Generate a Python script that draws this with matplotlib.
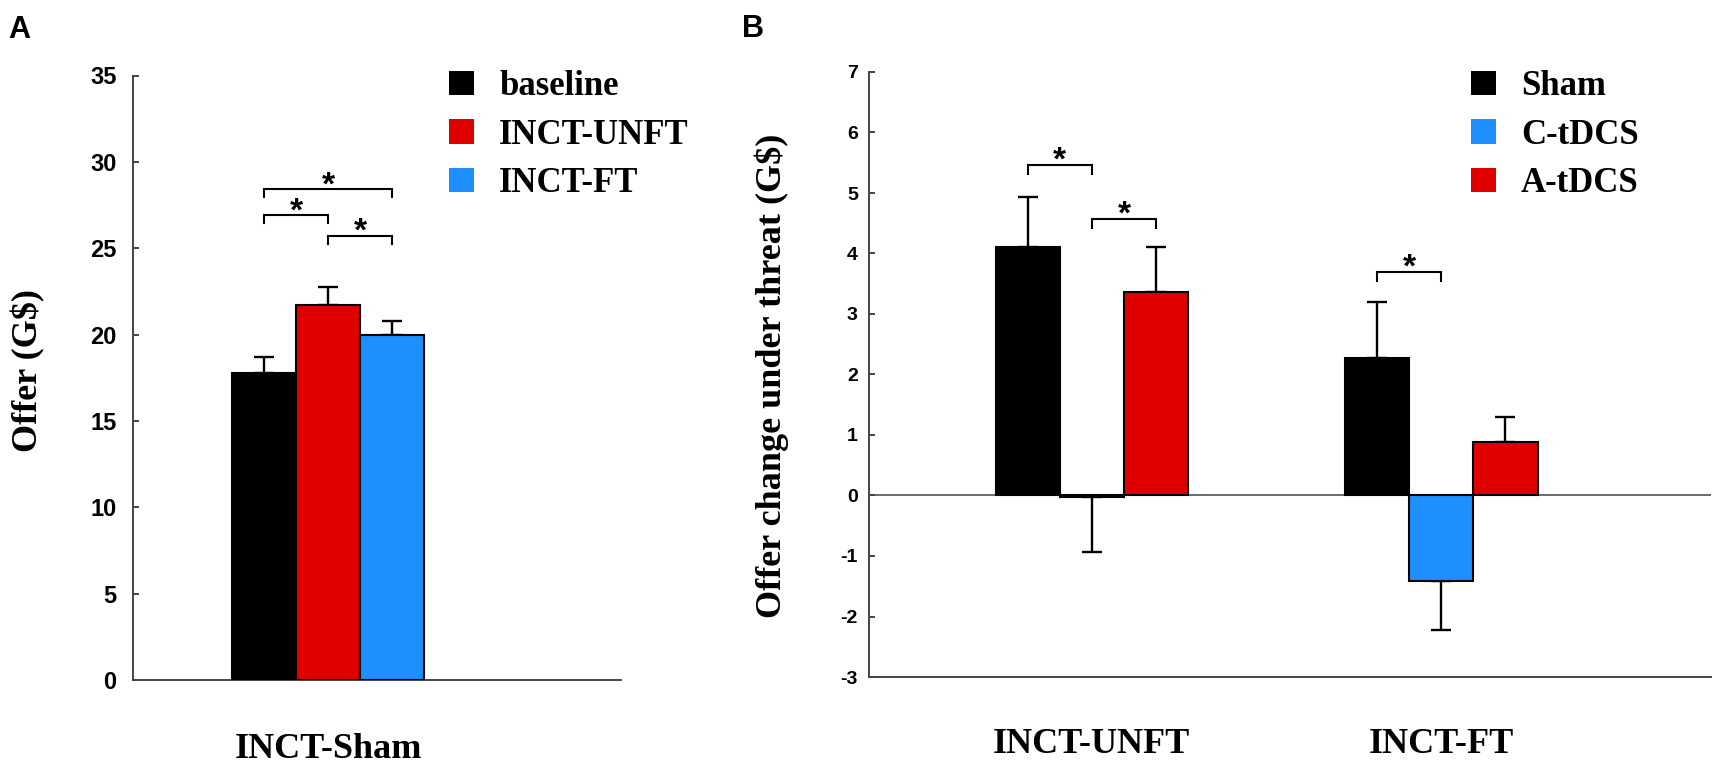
import matplotlib
matplotlib.use("Agg")
import matplotlib.pyplot as plt
from matplotlib.patches import Patch

plt.rcParams["font.family"] = ["Liberation Sans", "DejaVu Sans"]
plt.rcParams["font.weight"] = "bold"
plt.rcParams["axes.unicode_minus"] = False

SERIF = ["Liberation Serif", "DejaVu Serif"]

# ---------------- datos ----------------
# Panel A
a_group = ["INCT-Sham"]
a_conditions = ["baseline", "INCT-UNFT", "INCT-FT"]
a_means = [17.8, 21.7, 20.0]
a_errs = [0.9, 1.05, 0.8]
# (barra i, barra j, altura)
a_sig = [(0, 2, 28.4), (0, 1, 26.9), (1, 2, 25.7)]

# Panel B
b_groups = ["INCT-UNFT", "INCT-FT"]
b_conditions = ["Sham", "C-tDCS", "A-tDCS"]
b_sham = [4.10, 2.28]
b_ctdcs = [-0.03, -1.42]
b_atdcs = [3.37, 0.89]
b_sham_err = [0.83, 0.92]
b_ctdcs_err = [0.90, 0.80]
b_atdcs_err = [0.74, 0.41]
# (grupo, barra i, barra j, altura)
b_sig = [(0, 0, 1, 5.47), (0, 1, 2, 4.57), (1, 0, 1, 3.70)]

# ---------------- estilo ----------------
BLACK, RED, BLUE = "#000000", "#e00000", "#1e8fff"
a_colors = [BLACK, RED, BLUE]
b_colors = [BLACK, BLUE, RED]
AXC = "#444444"
W = 1.0            # ancho de barra
B_GAP = 5.44       # separación entre grupos del panel B

fig = plt.figure(figsize=(17.22, 7.63), dpi=100)
FW, FH = 1722, 763
axA = fig.add_axes([133 / FW, 1 - 680 / FH, 488 / FW, 604.5 / FH])
axB = fig.add_axes([869 / FW, 1 - 677 / FH, 842 / FW, 605 / FH])


def draw_bar(ax, x, v, e, color):
    ax.bar(x, v, width=W, color=color, edgecolor="black", linewidth=1.5, zorder=3)
    yerr = [[0], [e]] if v >= 0 else [[e], [0]]
    ax.errorbar(x, v, yerr=yerr, fmt="none", ecolor="black", elinewidth=1.7,
                capsize=7, capthick=1.7, zorder=2)


def bracket(ax, x1, x2, h, drop, fs):
    ax.plot([x1, x1, x2, x2], [h - drop, h, h, h - drop], color="black",
            lw=1.5, solid_joinstyle="miter", zorder=4)
    ax.annotate("*", xy=((x1 + x2) / 2, h), xytext=(0, -3.5), textcoords="offset points",
                ha="center", va="baseline", fontsize=fs, fontweight="bold")


def style_axis(ax, labelsize, pad):
    for s in ("top", "right"):
        ax.spines[s].set_visible(False)
    for s in ("left", "bottom"):
        ax.spines[s].set_color(AXC)
        ax.spines[s].set_linewidth(1.4)
    ax.tick_params(axis="y", direction="in", length=4, width=1.4, color=AXC,
                   labelsize=labelsize, pad=pad)
    ax.tick_params(axis="x", length=0)


# ---------------- panel A ----------------
a_x = [(i - 1) * W for i in range(len(a_means))]
for x, v, e, c in zip(a_x, a_means, a_errs, a_colors):
    draw_bar(axA, x, v, e, c)
for i, j, h in a_sig:
    bracket(axA, a_x[i], a_x[j], h, 0.45, 24)

axA.set_xlim(-3.05, 4.58)
axA.set_ylim(0, 35)
axA.set_yticks(range(0, 36, 5))
axA.set_xticks([0])
axA.set_xticklabels(a_group, fontfamily=SERIF, fontsize=26, fontweight="bold")
style_axis(axA, 17, 12)
axA.tick_params(axis="x", pad=38)

hA = [Patch(facecolor=c, edgecolor="none", label=l) for c, l in zip(a_colors, a_conditions)]
axA.legend(handles=hA, loc="upper left", bbox_to_anchor=(449 / FW, 1 - 70 / FH),
           bbox_transform=fig.transFigure, frameon=False, borderpad=0, borderaxespad=0,
           handlelength=0.72, handleheight=0.69, handletextpad=0.72, labelspacing=0.45,
           prop={"family": SERIF, "size": 25, "weight": "bold"})

# ---------------- panel B ----------------
b_series = [(b_sham, b_sham_err), (b_ctdcs, b_ctdcs_err), (b_atdcs, b_atdcs_err)]
centers = [g * B_GAP for g in range(len(b_groups))]
for k, ((vals, errs), c) in enumerate(zip(b_series, b_colors)):
    for g, (v, e) in enumerate(zip(vals, errs)):
        draw_bar(axB, centers[g] + (k - 1) * W, v, e, c)
for g, i, j, h in b_sig:
    bracket(axB, centers[g] + (i - 1) * W, centers[g] + (j - 1) * W, h, 0.15, 24)

axB.axhline(0, color=AXC, lw=1.1, zorder=1)
axB.set_xlim(-3.47, 9.64)
axB.set_ylim(-3, 7)
axB.set_yticks(range(-3, 8))
axB.set_xticks(centers)
axB.set_xticklabels(b_groups, fontfamily=SERIF, fontsize=26, fontweight="bold")
style_axis(axB, 14, 8)
axB.tick_params(axis="x", pad=37)

hB = [Patch(facecolor=c, edgecolor="none", label=l) for c, l in zip(b_colors, b_conditions)]
axB.legend(handles=hB, loc="upper left", bbox_to_anchor=(1471 / FW, 1 - 70 / FH),
           bbox_transform=fig.transFigure, frameon=False, borderpad=0, borderaxespad=0,
           handlelength=0.72, handleheight=0.69, handletextpad=0.72, labelspacing=0.45,
           prop={"family": SERIF, "size": 25, "weight": "bold"})

# ---------------- textos ----------------
fig.text(28 / FW, 1 - 371 / FH, "Offer (G$)", rotation=90, ha="center", va="center",
         fontfamily=SERIF, fontsize=26, fontweight="bold")
fig.text(772 / FW, 1 - 376 / FH, "Offer change under threat (G$)", rotation=90,
         ha="center", va="center", fontfamily=SERIF, fontsize=26, fontweight="bold")
fig.text(8 / FW, 1 - 38 / FH, "A", fontsize=22, fontweight="bold", va="baseline")
fig.text(742 / FW, 1 - 37 / FH, "B", fontsize=22, fontweight="bold", va="baseline")

fig.savefig("out.png", dpi=100)
